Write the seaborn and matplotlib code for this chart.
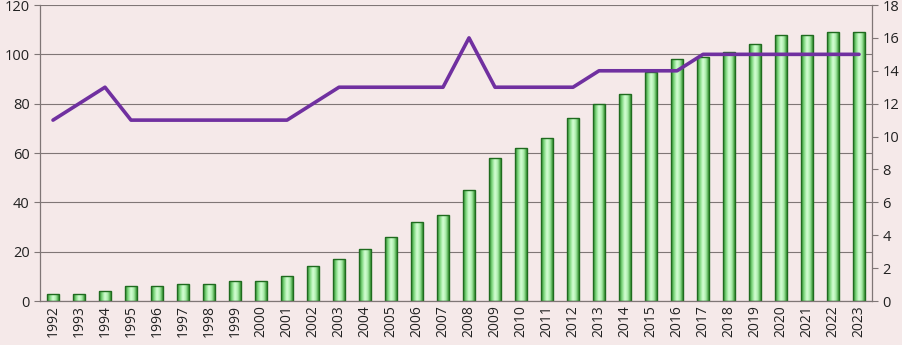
import numpy as np
import pandas as pd
import seaborn as sns
import matplotlib.pyplot as plt
from matplotlib.colors import LinearSegmentedColormap

years = [str(y) for y in range(1992, 2024)]
bar_values = [3, 3, 4, 6, 6, 7, 7, 8, 8, 10, 14, 17, 21, 26, 32, 35, 45, 58, 62, 66,
              74, 80, 84, 93, 98, 99, 101, 104, 108, 108, 109, 109]
line_values = [11, 12, 13, 11, 11, 11, 11, 11, 11, 11, 12, 13, 13, 13, 13, 13, 16, 13,
               13, 13, 13, 14, 14, 14, 14, 15, 15, 15, 15, 15, 15, 15]

BG = '#F5E9E9'
GRID = '#7f7676'

sns.set_style('white')
plt.rcParams['font.family'] = ['Open Sans', 'DejaVu Sans']

df = pd.DataFrame({'year': years, 'bars': bar_values, 'line': line_values})
df['pos'] = np.arange(len(df))

fig = plt.figure(figsize=(9.03, 3.45), dpi=100, facecolor=BG)
ax = fig.add_axes([0.0443, 0.1275, 0.9214, 0.858])
ax.set_facecolor(BG)

sns.barplot(data=df, x='year', y='bars', ax=ax, width=0.44,
            color='#8fdc8f', edgecolor='#1f6b1f', linewidth=1.0, saturation=1)

# cylinder-like horizontal gradient inside each bar
cmap = LinearSegmentedColormap.from_list('g', ['#2a862a', '#7fd97f', '#d8ffd8', '#a8eca8', '#33922f'])
grad = np.linspace(0, 1, 64).reshape(1, -1)
for p in ax.patches:
    x0, y0 = p.get_x(), p.get_y()
    w, h = p.get_width(), p.get_height()
    im = ax.imshow(grad, cmap=cmap, aspect='auto', extent=[x0, x0 + w, y0, y0 + h],
                   zorder=p.get_zorder(), interpolation='bicubic')
    im.set_clip_path(p)
    p.set_facecolor('none')
    p.set_zorder(p.get_zorder() + 0.1)

ax.set_xlim(-0.5, len(years) - 0.5)
ax.set_ylim(0, 120)
ax.set_yticks(range(0, 121, 20))
ax.yaxis.grid(True, color=GRID, linewidth=0.8)
ax.set_axisbelow(True)
ax.set_xlabel('')
ax.set_ylabel('')
ax.set_xticks(range(len(years)))
ax.set_xticklabels(years, rotation=90)
ax.set_xticks(np.arange(-0.5, len(years), 1), minor=True)
ax.tick_params(axis='x', which='major', length=0, labelsize=10, pad=3, colors='#222222')
ax.tick_params(axis='x', which='minor', length=4, color=GRID, direction='out')
ax.tick_params(axis='y', length=4, color=GRID, labelsize=10.5, labelcolor='#222222', direction='out')
for s in ['top', 'right']:
    ax.spines[s].set_visible(False)
for s in ['left', 'bottom']:
    ax.spines[s].set_color(GRID)
    ax.spines[s].set_linewidth(0.9)

ax2 = ax.twinx()
sns.lineplot(data=df, x='pos', y='line', ax=ax2, color='#7030A0', linewidth=2.6)
ax2.set_ylim(0, 18)
ax2.set_yticks(range(0, 19, 2))
ax2.set_xlim(-0.5, len(years) - 0.5)
ax2.set_ylabel('')
ax2.set_xlabel('')
ax2.tick_params(axis='y', length=4, color=GRID, labelsize=10.5, labelcolor='#222222', direction='out')
for s in ['top', 'left', 'bottom']:
    ax2.spines[s].set_visible(False)
ax2.spines['right'].set_color(GRID)
ax2.spines['right'].set_linewidth(0.9)

fig.savefig('out.png', dpi=100, facecolor=BG)
